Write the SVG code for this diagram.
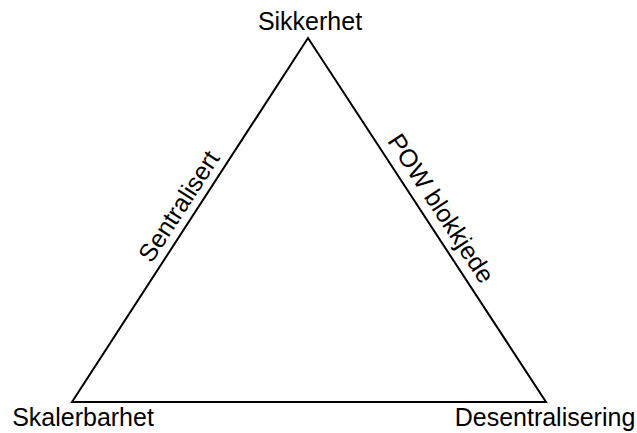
<svg xmlns="http://www.w3.org/2000/svg" width="637" height="433" viewBox="0 0 637 433">
<style>
text{font-family:"Liberation Sans",Arial,sans-serif;font-size:25px;fill:#000}
.edge{fill:none;stroke:#000;stroke-width:2}
</style>
<rect width="637" height="433" fill="#fff"/>
<g id="connectors">
<polygon class="edge" points="308,38 72,402 546,402"/>
</g>
<g id="sikkerhet"><text x="310" y="30" text-anchor="middle">Sikkerhet</text></g>
<g id="skalerbarhet"><text x="83" y="426" text-anchor="middle">Skalerbarhet</text></g>
<g id="desentralisering"><text x="545" y="426" text-anchor="middle">Desentralisering</text></g>
<g id="sentralisert"><text transform="translate(186,211) rotate(-57)" text-anchor="middle">Sentralisert</text></g>
<g id="pow"><text transform="translate(434,213) rotate(56.8)" text-anchor="middle">POW blokkjede</text></g>
</svg>
